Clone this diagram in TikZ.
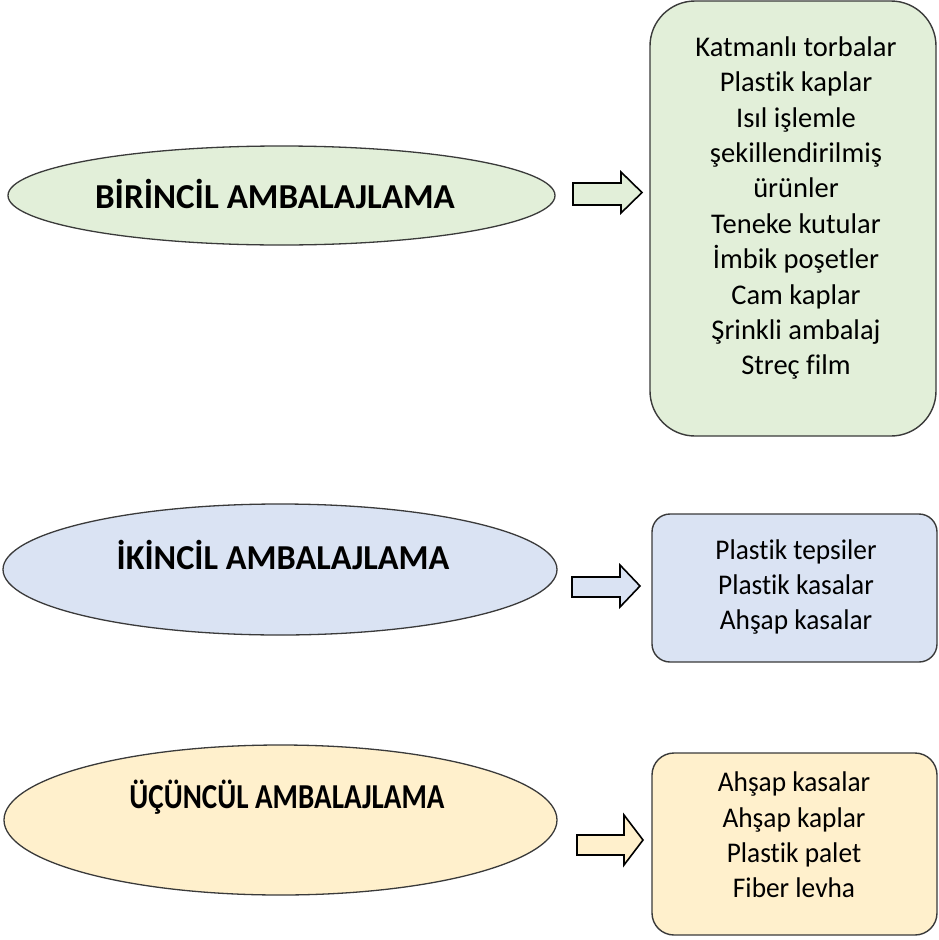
\documentclass[tikz,border=0pt]{standalone}
\usepackage{fontspec}
\setmainfont{Carlito}[Ligatures=NoCommon]
\usetikzlibrary{shapes.geometric}
\definecolor{gfill}{HTML}{E2EFD9}
\definecolor{bfill}{HTML}{DAE3F3}
\definecolor{yfill}{HTML}{FFF0CC}
\definecolor{edge}{HTML}{3A3A3A}
\tikzset{
  ell/.style={ellipse, draw=edge, line width=1.3pt, inner sep=0pt},
  rbox/.style={rectangle, draw=edge, line width=1.4pt, inner sep=0pt},
  title/.style={font=\bfseries\fontsize{35}{40}\selectfont, inner sep=0pt},
  items/.style={font=\fontsize{28.5}{35.4}\selectfont, align=center, inner sep=0pt},
  blockarrow/.style={draw=black, line width=1.6pt, line join=miter},
}
\begin{document}
\begin{tikzpicture}[x=1pt,y=-1pt]
\useasboundingbox (0,0) rectangle (939,940);
% ---- row 1
\node[ell, fill=gfill, minimum width=547pt, minimum height=99pt] (e1) at (281.5,195.5) {};
\node[title] (t1) at (275,194) {BİRİNCİL AMBALAJLAMA};
\node[rbox, fill=gfill, rounded corners=45pt, minimum width=286pt, minimum height=435pt] (b1) at (793,218.5) {};
\node[items] (l1) at (796,208) {Katmanlı torbalar\\Plastik kaplar\\Isıl işlemle\\şekillendirilmiş\\ürünler\\Teneke kutular\\İmbik poşetler\\Cam kaplar\\Şrinkli ambalaj\\Streç film};
\draw[blockarrow, fill=gfill] (573,183) -- (621,183) -- (621,172) -- (642,192.5) -- (621,213) -- (621,205) -- (573,205) -- cycle;
% ---- row 2
\node[ell, fill=bfill, minimum width=554pt, minimum height=131pt] (e2) at (280,569.5) {};
\node[title, xscale=0.98] (t2) at (283,555) {İKİNCİL AMBALAJLAMA};
\node[rbox, fill=bfill, rounded corners=18pt, minimum width=285pt, minimum height=148pt] (b2) at (794.5,588) {};
\node[items, xscale=0.96] (l2) at (796,587) {Plastik tepsiler\\Plastik kasalar\\Ahşap kasalar};
\draw[blockarrow, fill=bfill] (572,577) -- (620,577) -- (620,565) -- (640,586) -- (620,607) -- (620,597) -- (572,597) -- cycle;
% ---- row 3
\node[ell, fill=yfill, minimum width=553pt, minimum height=150pt] (e3) at (280.5,820) {};
\node[title, xscale=0.83] (t3) at (287,797) {ÜÇÜNCÜL AMBALAJLAMA};
\node[rbox, fill=yfill, rounded corners=22pt, minimum width=285pt, minimum height=182pt] (b3) at (794.5,844) {};
\node[items, xscale=0.96] (l3) at (794,835) {Ahşap kasalar\\Ahşap kaplar\\Plastik palet\\Fiber levha};
\draw[blockarrow, fill=yfill] (577,835) -- (624,835) -- (624,815) -- (643,840) -- (624,865) -- (624,855) -- (577,855) -- cycle;
\end{tikzpicture}
\end{document}
